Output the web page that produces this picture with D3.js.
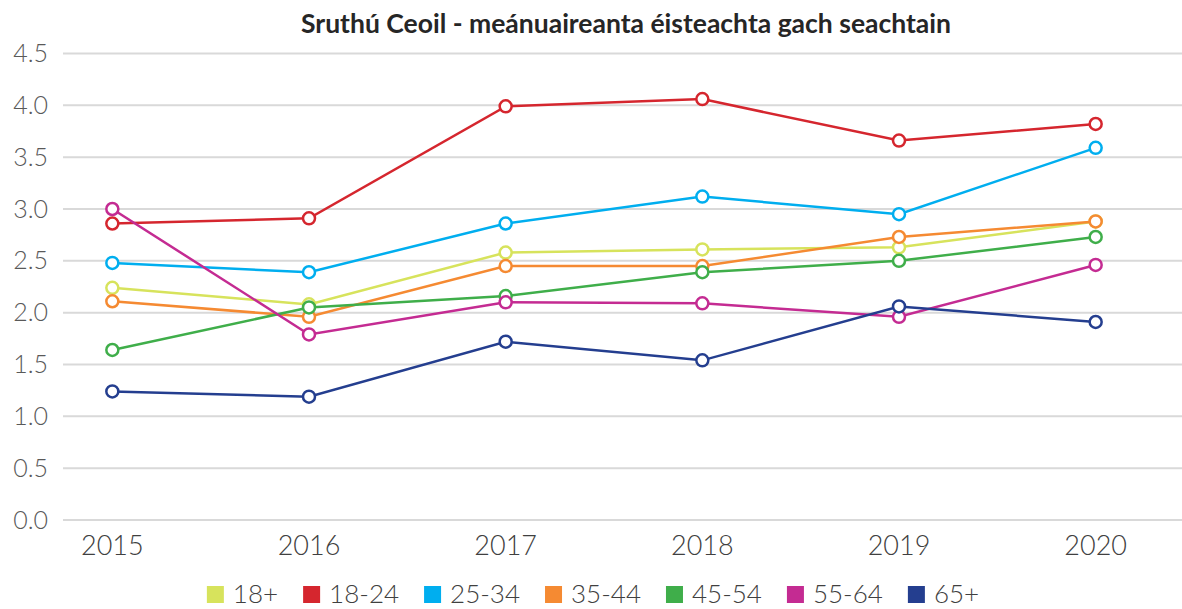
<!DOCTYPE html>
<html>
<head>
<meta charset="utf-8">
<script src="https://cdn.jsdelivr.net/npm/d3@7"></script>
<style>
    body { margin: 0; background: #fff; }
    #lineChart text { font-family: Lato, "Open Sans", sans-serif; }
</style>
</head>
<body>
<div id="lineChart"></div>
<script>
const years = ['2015', '2016', '2017', '2018', '2019', '2020'];
const groups = ['18+', '18-24', '25-34', '35-44', '45-54', '55-64', '65+'];
const colours = ['#d7e35c', '#d5262e', '#00aeef', '#f58a32', '#3fae4a', '#c42b92', '#243e8f'];
const yTicks = [0, 0.5, 1, 1.5, 2, 2.5, 3, 3.5, 4, 4.5];

const v18plus = [2.24, 2.08, 2.58, 2.61, 2.63, 2.88];
const v18to24 = [2.86, 2.91, 3.99, 4.06, 3.66, 3.82];
const v25to34 = [2.48, 2.39, 2.86, 3.12, 2.95, 3.59];
const v35to44 = [2.11, 1.96, 2.45, 2.45, 2.73, 2.88];
const v45to54 = [1.64, 2.05, 2.16, 2.39, 2.50, 2.73];
const v55to64 = [3.00, 1.79, 2.10, 2.09, 1.96, 2.46];
const v65plus = [1.24, 1.19, 1.72, 1.54, 2.06, 1.91];

const series = [v18plus, v18to24, v25to34, v35to44, v45to54, v55to64, v65plus];

const width = 1182;
const height = 609;

const svg = d3.select('#lineChart')
    .append('svg')
    .attr('width', width)
    .attr('height', height);

// band runs wider than the grid, so points sit where the original has them
const x = d3.scaleBand()
    .domain(years)
    .range([14, 1194]);

const y = d3.scaleLinear()
    .domain([0, 4.5])
    .range([520, 53.5]);

const cx = d => x(d) + x.bandwidth() / 2;

svg.append('text')
    .attr('x', 626)
    .attr('y', 33)
    .attr('text-anchor', 'middle')
    .attr('font-size', '26.5px')
    .attr('font-weight', 'bold')
    .attr('fill', '#262626')
    .text('Sruthú Ceoil - meánuaireanta éisteachta gach seachtain');

// grid
svg.append('g')
    .selectAll('line')
    .data(yTicks)
    .join('line')
    .attr('x1', 63)
    .attr('x2', width)
    .attr('y1', d => y(d))
    .attr('y2', d => y(d))
    .attr('stroke', '#d9d9d9')
    .attr('stroke-width', 2);

const yAxis = g => g
    .attr('transform', 'translate(48, 0)')
    .call(d3.axisLeft(y).tickValues(yTicks).tickSize(0).tickPadding(0).tickFormat(d3.format('.1f')))
    .call(g => g.select('.domain').remove())
    .selectAll('text')
    .attr('font-size', '25px')
    .attr('font-weight', 300)
    .attr('fill', '#595959');

const xAxis = g => g
    .attr('transform', 'translate(0, 536)')
    .call(d3.axisBottom(x).tickSize(0).tickPadding(0))
    .call(g => g.select('.domain').remove())
    .selectAll('text')
    .attr('font-size', '27px')
    .attr('font-weight', 300)
    .attr('fill', '#404040');

svg.append('g').call(yAxis);
svg.append('g').call(xAxis);

const line = d3.line()
    .x((d, i) => cx(years[i]))
    .y(d => y(d));

const lines = svg.append('g')
    .selectAll('g')
    .data(series)
    .join('g');

lines.append('path')
    .attr('d', d => line(d))
    .attr('fill', 'none')
    .attr('stroke', (d, i) => colours[i])
    .attr('stroke-width', 2.5);

lines.each(function (d, i) {
    d3.select(this)
        .selectAll('circle')
        .data(d)
        .join('circle')
        .attr('cx', (v, j) => cx(years[j]))
        .attr('cy', v => y(v))
        .attr('r', 6)
        .attr('fill', '#fff')
        .attr('stroke', colours[i])
        .attr('stroke-width', 2.5);
});

// legend
const legend = svg.append('g')
    .attr('transform', 'translate(0, 594)');

let pos = 0;
const items = legend.selectAll('g')
    .data(groups)
    .join('g');

items.append('rect')
    .attr('width', 17)
    .attr('height', 17)
    .attr('y', -8)
    .attr('fill', (d, i) => colours[i]);

items.append('text')
    .attr('x', 26)
    .attr('dy', '0.35em')
    .attr('font-size', '26px')
    .attr('font-weight', 300)
    .attr('fill', '#404040')
    .text(d => d);

const offsets = [];
items.each(function () {
    offsets.push(pos);
    pos += this.getBBox().width + 25;
});
const total = pos - 25;
const start = 593 - total / 2;
items.attr('transform', (d, i) => `translate(${start + offsets[i]}, 0)`);
</script>
</body>
</html>
